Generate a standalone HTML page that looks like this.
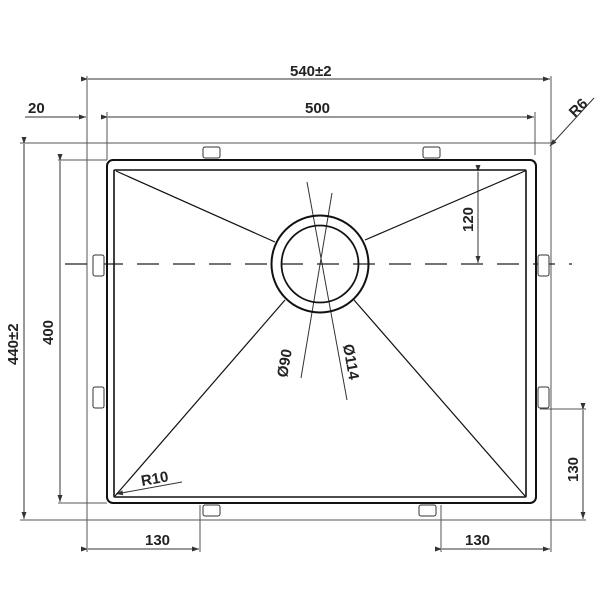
<!DOCTYPE html>
<html><head><meta charset="utf-8"><style>html,body{margin:0;padding:0;background:#fff}svg{display:block}text{font-family:"Liberation Sans",sans-serif;font-weight:bold;font-size:15px;fill:#222}</style></head>
<body>
<svg width="600" height="600" viewBox="0 0 600 600" xmlns="http://www.w3.org/2000/svg">
<defs><marker id="a" markerWidth="8" markerHeight="6" refX="7" refY="3" orient="auto" markerUnits="userSpaceOnUse"><path d="M0,0.5 L7,3 L0,5.5" fill="#333"/></marker></defs>
<g stroke="#555" stroke-width="1" fill="none">
<!-- extension lines -->
<line x1="87" y1="76" x2="87" y2="552"/>
<line x1="551" y1="76" x2="551" y2="552"/>
<line x1="107" y1="112" x2="107" y2="160"/>
<line x1="535" y1="112" x2="535" y2="155"/>
<line x1="20" y1="143" x2="551" y2="143"/>
<line x1="20" y1="520" x2="586" y2="520"/>
<line x1="58" y1="160" x2="107" y2="160"/>
<line x1="58" y1="503" x2="107" y2="503"/>
<line x1="540" y1="409" x2="586" y2="409"/>
<line x1="441" y1="505" x2="441" y2="552"/>
<line x1="200" y1="505" x2="200" y2="552"/>
</g>
<g stroke="#333" stroke-width="1" fill="none">
<line x1="88" y1="79" x2="550" y2="79" marker-start="url(#a)" marker-end="url(#a)"/>
<line x1="25" y1="117" x2="86" y2="117" marker-end="url(#a)"/>
<line x1="108" y1="117" x2="534" y2="117" marker-start="url(#a)" marker-end="url(#a)"/>
<line x1="24" y1="144" x2="24" y2="519" marker-start="url(#a)" marker-end="url(#a)"/>
<line x1="60" y1="161" x2="60" y2="502" marker-start="url(#a)" marker-end="url(#a)"/>
<line x1="478" y1="172" x2="478" y2="263" marker-start="url(#a)" marker-end="url(#a)"/>
<line x1="583" y1="410" x2="583" y2="519" marker-start="url(#a)" marker-end="url(#a)"/>
<line x1="88" y1="549" x2="199" y2="549" marker-start="url(#a)" marker-end="url(#a)"/>
<line x1="442" y1="549" x2="550" y2="549" marker-start="url(#a)" marker-end="url(#a)"/>
<line x1="594" y1="98" x2="550" y2="146" marker-end="url(#a)"/>
<line x1="182" y1="482" x2="116" y2="494" marker-end="url(#a)"/>
<line x1="307" y1="182" x2="347" y2="400"/>
<line x1="332" y1="193" x2="301" y2="378"/>
<!-- center line -->
<line x1="65" y1="264" x2="572" y2="264" stroke="#222" stroke-width="1.3" stroke-dasharray="22,14"/>
</g>
<!-- bowl -->
<g stroke="#111" fill="none" stroke-width="2">
<rect x="107" y="160" width="429" height="343" rx="6"/>
<rect x="114" y="170" width="412" height="327" rx="1" stroke-width="1.6"/>
</g>
<g stroke="#111" stroke-width="1.2" fill="none">
<line x1="116" y1="171" x2="275" y2="242"/>
<line x1="525" y1="171" x2="365" y2="240"/>
<line x1="115" y1="496" x2="285" y2="300"/>
<line x1="525" y1="496" x2="354" y2="300"/>
<circle cx="320" cy="264" r="48.5" stroke-width="2"/>
<circle cx="320" cy="264" r="38.5" stroke-width="1.8"/>
</g>
<!-- clips -->
<g stroke="#333" stroke-width="1" fill="#fff">
<rect x="203" y="147" width="17" height="11" rx="2"/>
<rect x="423" y="147" width="17" height="11" rx="2"/>
<rect x="203" y="505" width="17" height="11" rx="2"/>
<rect x="419" y="505" width="17" height="11" rx="2"/>
<rect x="93" y="255" width="11" height="21" rx="2"/>
<rect x="93" y="387" width="11" height="21" rx="2"/>
<rect x="538" y="255" width="11" height="21" rx="2"/>
<rect x="538" y="387" width="11" height="21" rx="2"/>
</g>
<text x="290" y="76">540±2</text>
<text x="28" y="113">20</text>
<text x="305" y="113">500</text>
<text x="145" y="545">130</text>
<text x="465" y="545">130</text>
<text x="142" y="486" transform="rotate(-10 142 486)">R10</text>
<text x="0" y="0" transform="translate(575,118) rotate(-45)">R6</text>
<text x="0" y="0" transform="translate(18,365) rotate(-90)">440±2</text>
<text x="0" y="0" transform="translate(53,345) rotate(-90)">400</text>
<text x="0" y="0" transform="translate(473,232) rotate(-90)">120</text>
<text x="0" y="0" transform="translate(578,482) rotate(-90)">130</text>
<text x="0" y="0" transform="translate(287,378) rotate(-80)">Ø90</text>
<text x="0" y="0" transform="translate(343,345) rotate(80)">Ø114</text>
</svg>
</body></html>
